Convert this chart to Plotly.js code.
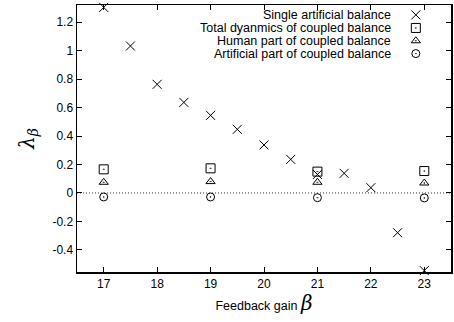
<!DOCTYPE html>
<html><head><meta charset="utf-8">
<script src="https://cdn.plot.ly/plotly-3.0.1.min.js"></script>
<style>html,body{margin:0;padding:0;background:#fff}#c{width:454px;height:322px}</style>
</head><body><div id="c"></div>
<script>
const singleX = [17, 17.5, 18, 18.5, 19, 19.5, 20, 20.5, 21, 21.5, 22, 22.5, 23];
const singleY = [1.303, 1.032, 0.763, 0.636, 0.545, 0.447, 0.337, 0.236, 0.13, 0.138, 0.037, -0.279, -0.545];
const coupledX = [17, 19, 21, 23];
const totalY = [0.166, 0.173, 0.15, 0.154];
const humanY = [0.075, 0.08, 0.075, 0.07];
const artificialY = [-0.028, -0.028, -0.033, -0.035];
const seriesNames = ["Single artificial balance", "Total dyanmics of coupled balance", "Human part of coupled balance", "Artificial part of coupled balance"];
const xTicks = [17, 18, 19, 20, 21, 22, 23];
const yTicks = [-0.4, -0.2, 0, 0.2, 0.4, 0.6, 0.8, 1, 1.2];
const yTickText = ["-0.4", "-0.2", "0", "0.2", "0.4", "0.6", "0.8", "1", "1.2"];

const symbols = ["x-thin-open", "square-open-dot", "triangle-up-open-dot", "circle-open-dot"];
const sizes = [9, 9, 8, 8];
const mk = (i) => ({symbol: symbols[i], size: sizes[i], color: "black", line: {color: "black", width: 1}});

const traces = [
  {x: singleX, y: singleY, mode: "markers", marker: mk(0), cliponaxis: false},
  {x: coupledX, y: totalY, mode: "markers", marker: mk(1), cliponaxis: false},
  {x: coupledX, y: humanY, mode: "markers", marker: mk(2), cliponaxis: false},
  {x: coupledX, y: artificialY, mode: "markers", marker: mk(3), cliponaxis: false}
];
// legend sample markers on an auxiliary 0..1 axis
const legY = [0.963, 0.914, 0.866, 0.818];
seriesNames.forEach((n, i) => {
  traces.push({x: [0.906], y: [legY[i]], xaxis: "x2", yaxis: "y2", mode: "markers", marker: mk(i), hoverinfo: "skip"});
});

const annotations = seriesNames.map((n, i) => ({
  text: n, xref: "paper", yref: "paper", x: 0.845, y: legY[i], xanchor: "right", yanchor: "middle",
  showarrow: false, font: {family: "Liberation Sans, Arial, sans-serif", size: 12.5, color: "black"}
}));

const axFont = {family: "Liberation Sans, Arial, sans-serif", size: 12, color: "black"};
const layout = {
  width: 454, height: 322,
  margin: {l: 77, r: 3, t: 5, b: 50},
  paper_bgcolor: "white", plot_bgcolor: "white",
  showlegend: false,
  xaxis: {range: [16.5, 23.5], tickvals: xTicks, ticks: "inside", ticklen: 5, tickcolor: "black",
    showline: true, linecolor: "black", linewidth: 1.5, mirror: "ticks", showgrid: false, zeroline: false,
    tickfont: axFont,
    title: {text: "Feedback gain <i style='font-family:DejaVu Serif'><span style='font-size:20px'>β</span></i>", font: {family: "Liberation Sans, Arial, sans-serif", size: 12.5, color: "black"}, standoff: 4}},
  yaxis: {range: [-0.555, 1.32], tickvals: yTicks, ticktext: yTickText, ticks: "inside", ticklen: 5, tickcolor: "black",
    showline: true, linecolor: "black", linewidth: 1.5, mirror: "ticks", showgrid: false, zeroline: false,
    tickfont: axFont,
    title: {text: "<i>λ<sub>β</sub></i>", font: {family: "DejaVu Serif, serif", size: 20, color: "black"}, standoff: 12}},
  xaxis2: {overlaying: "x", range: [0, 1], visible: false, fixedrange: true},
  yaxis2: {overlaying: "y", range: [0, 1], visible: false, fixedrange: true},
  shapes: [{type: "line", xref: "paper", yref: "y", x0: 0, x1: 1, y0: 0, y1: 0, line: {color: "black", width: 0.8, dash: "1px,2px"}}],
  annotations: annotations
};
Plotly.newPlot("c", traces, layout, {staticPlot: true});
</script></body></html>
